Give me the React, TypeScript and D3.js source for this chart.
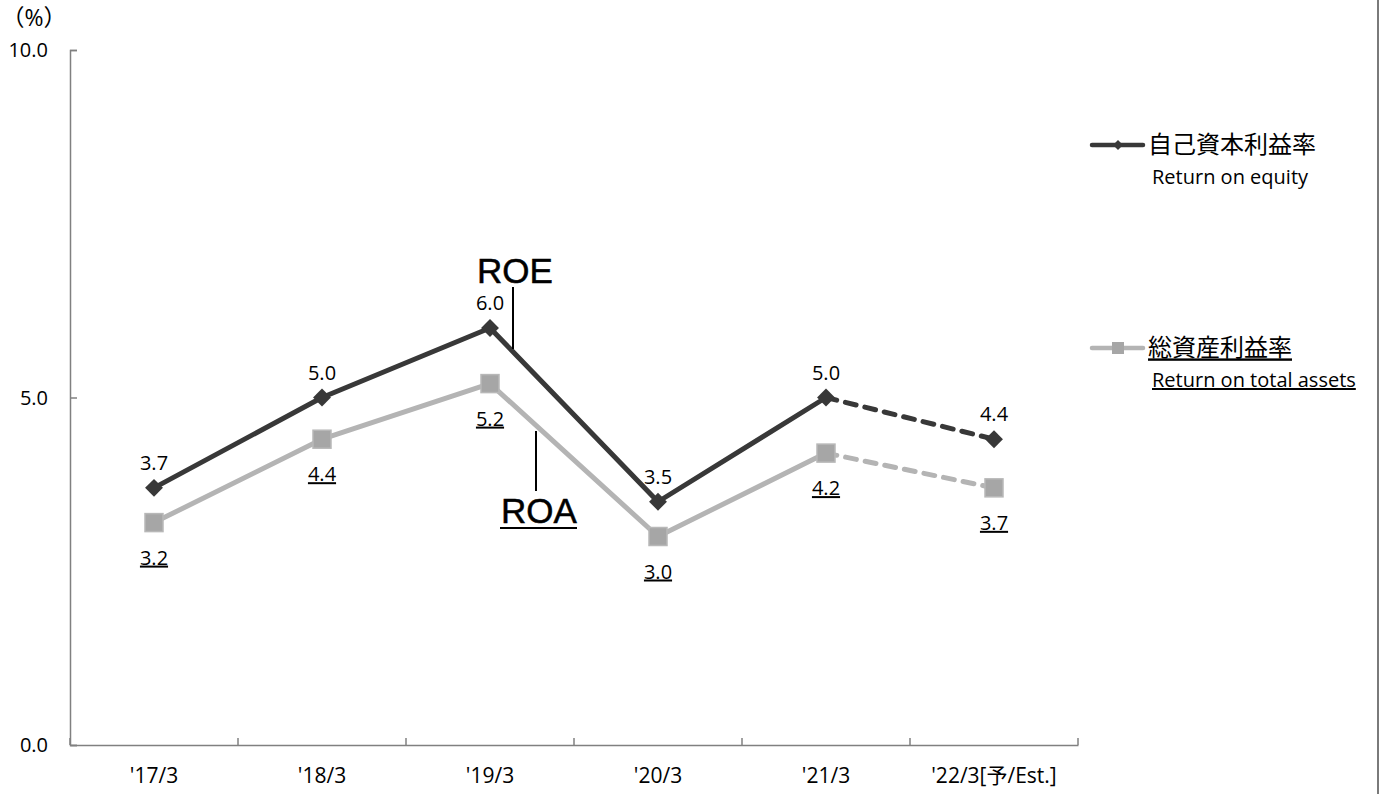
import React, { useEffect, useRef } from "react";
import * as d3 from "d3";

const categories = ["'17/3", "'18/3", "'19/3", "'20/3", "'21/3", "'22/3[予/Est.]"];
const roeValues = [3.7, 5.0, 6.0, 3.5, 5.0, 4.4];
const roaValues = [3.2, 4.4, 5.2, 3.0, 4.2, 3.7];
const yTicks = [0, 5, 10];

const App = () => {
  const svgRef = useRef<SVGSVGElement | null>(null);

  useEffect(() => {
    const width = 1382;
    const height = 794;
    const font = "Open Sans, Noto Sans CJK JP, sans-serif";
    const axisColor = "#808080";
    const roeColor = "#383838";
    const roaColor = "#b4b4b4";

    const svg = d3.select(svgRef.current).attr("width", width).attr("height", height);
    svg.selectAll("*").remove();

    const x = d3.scaleBand().domain(categories).range([70, 1078]);
    const y = d3.scaleLinear().domain([0, 10]).range([745, 50]);
    const cx = (i: number) => (x(categories[i]) || 0) + x.bandwidth() / 2;

    // right frame line
    svg.append("line")
      .attr("x1", 1378).attr("x2", 1378).attr("y1", 0).attr("y2", height)
      .attr("stroke", "#7a7a7a").attr("stroke-width", 2);

    // y axis
    const yAxis = svg.append("g")
      .attr("transform", "translate(70,0)")
      .call(d3.axisRight(y).tickValues(yTicks).tickSize(7).tickFormat(() => ""));
    yAxis.select(".domain").attr("stroke", axisColor).attr("stroke-width", 1.5);
    yAxis.selectAll(".tick line").attr("stroke", axisColor).attr("stroke-width", 1.5);

    svg.append("g").selectAll("text").data(yTicks).enter().append("text")
      .attr("x", 48).attr("y", (d) => y(d)).attr("dy", "0.35em")
      .attr("text-anchor", "end").attr("font-family", font).attr("font-size", 20)
      .text((d) => d.toFixed(1));

    svg.append("text").attr("x", 34).attr("y", 18).attr("dy", "0.35em").attr("text-anchor", "middle")
      .attr("font-family", font).attr("font-size", 23).text("（%）");

    // x axis
    const xAxis = svg.append("g")
      .attr("transform", "translate(0,745)")
      .call(d3.axisTop(x).tickSize(0).tickFormat(() => ""));
    xAxis.select(".domain").attr("stroke", axisColor).attr("stroke-width", 1.5);
    const edges = d3.range(categories.length + 1).map((i) => 70 + i * x.step());
    svg.append("g").selectAll("line").data(edges).enter().append("line")
      .attr("x1", (d) => d).attr("x2", (d) => d).attr("y1", 745).attr("y2", 738)
      .attr("stroke", axisColor).attr("stroke-width", 1.5);

    svg.append("g").selectAll("text").data(categories).enter().append("text")
      .attr("x", (d) => (x(d) || 0) + x.bandwidth() / 2).attr("y", 776).attr("dy", "0.35em")
      .attr("text-anchor", "middle").attr("font-family", font).attr("font-size", 21)
      .text((d) => d);

    const drawSeries = (vals: number[], color: string) => {
      const solid = vals.map((v, i) => (i <= 4 ? v : null));
      svg.append("path")
        .attr("d", d3.line<number | null>().defined((d) => d !== null).x((d, i) => cx(i)).y((d) => y(d as number))(solid))
        .attr("fill", "none").attr("stroke", color).attr("stroke-width", 5)
        .attr("stroke-linejoin", "round");
      svg.append("path")
        .attr("d", `M${cx(4)},${y(vals[4])}L${cx(5)},${y(vals[5])}`)
        .attr("fill", "none").attr("stroke", color).attr("stroke-width", 5)
        .attr("stroke-dasharray", "11,9").attr("stroke-linecap", "round");
    };
    drawSeries(roaValues, roaColor);
    drawSeries(roeValues, roeColor);

    // markers
    svg.append("g").selectAll("rect").data(roaValues).enter().append("rect")
      .attr("x", (d, i) => cx(i) - 9).attr("y", (d) => y(d) - 9)
      .attr("width", 18).attr("height", 18)
      .attr("fill", "#a6a6a6").attr("stroke", "#b8b8b8").attr("stroke-width", 1.5);
    svg.append("g").selectAll("path").data(roeValues).enter().append("path")
      .attr("d", d3.symbol().type(d3.symbolSquare).size(160)())
      .attr("transform", (d, i) => `translate(${cx(i)},${y(d)}) rotate(45)`)
      .attr("fill", roeColor);

    // value labels
    svg.append("g").selectAll("text").data(roeValues).enter().append("text")
      .attr("x", (d, i) => cx(i)).attr("y", (d) => y(d) - 25).attr("dy", "0.35em")
      .attr("text-anchor", "middle").attr("font-family", font).attr("font-size", 20)
      .text((d) => d.toFixed(1));
    svg.append("g").selectAll("text").data(roaValues).enter().append("text")
      .attr("x", (d, i) => cx(i)).attr("y", (d) => y(d) + 35).attr("dy", "0.35em")
      .attr("text-anchor", "middle").attr("font-family", font).attr("font-size", 20)
      .attr("text-decoration", "underline")
      .text((d) => d.toFixed(1));

    // ROE / ROA callouts
    const calloutFont = "Liberation Sans, Arial, sans-serif";
    svg.append("text").attr("x", 515).attr("y", 283).attr("text-anchor", "middle")
      .attr("font-family", calloutFont).attr("font-size", 35).attr("font-weight", 500)
      .attr("stroke", "#000").attr("stroke-width", 0.5)
      .text("ROE");
    svg.append("line").attr("x1", 513).attr("x2", 513).attr("y1", 287).attr("y2", 349)
      .attr("stroke", "#000").attr("stroke-width", 2);
    svg.append("text").attr("x", 539).attr("y", 523).attr("text-anchor", "middle")
      .attr("font-family", calloutFont).attr("font-size", 35)
      .attr("stroke", "#000").attr("stroke-width", 0.5)
      .text("ROA");
    svg.append("line").attr("x1", 500).attr("x2", 577).attr("y1", 528).attr("y2", 528)
      .attr("stroke", "#000").attr("stroke-width", 2);
    svg.append("line").attr("x1", 536).attr("x2", 536).attr("y1", 431).attr("y2", 491)
      .attr("stroke", "#000").attr("stroke-width", 2);

    // legend
    const legend = [
      { name: "自己資本利益率", sub: "Return on equity", color: roeColor, y: 145, under: false },
      { name: "総資産利益率", sub: "Return on total assets", color: roaColor, y: 348, under: true },
    ];
    legend.forEach((l, i) => {
      svg.append("line").attr("x1", 1092).attr("x2", 1143).attr("y1", l.y).attr("y2", l.y)
        .attr("stroke", l.color).attr("stroke-width", 4.5).attr("stroke-linecap", "round");
      if (i === 0) {
        svg.append("path").attr("d", d3.symbol().type(d3.symbolSquare).size(50)())
          .attr("transform", `translate(1118,${l.y}) rotate(45)`).attr("fill", roeColor);
      } else {
        svg.append("rect").attr("x", 1112).attr("y", l.y - 6).attr("width", 12).attr("height", 12)
          .attr("fill", "#a6a6a6");
      }
      svg.append("text").attr("x", 1148).attr("y", l.y).attr("dy", "0.35em")
        .attr("font-family", font).attr("font-size", 24)
        .attr("text-decoration", l.under ? "underline" : "none").text(l.name);
      svg.append("text").attr("x", 1152).attr("y", l.y + 32).attr("dy", "0.35em")
        .attr("font-family", font).attr("font-size", 20)
        .attr("text-decoration", l.under ? "underline" : "none").text(l.sub);
    });
  }, []);

  return <svg ref={svgRef} style={{ position: "absolute", left: 0, top: 0 }}></svg>;
};

export default App;
